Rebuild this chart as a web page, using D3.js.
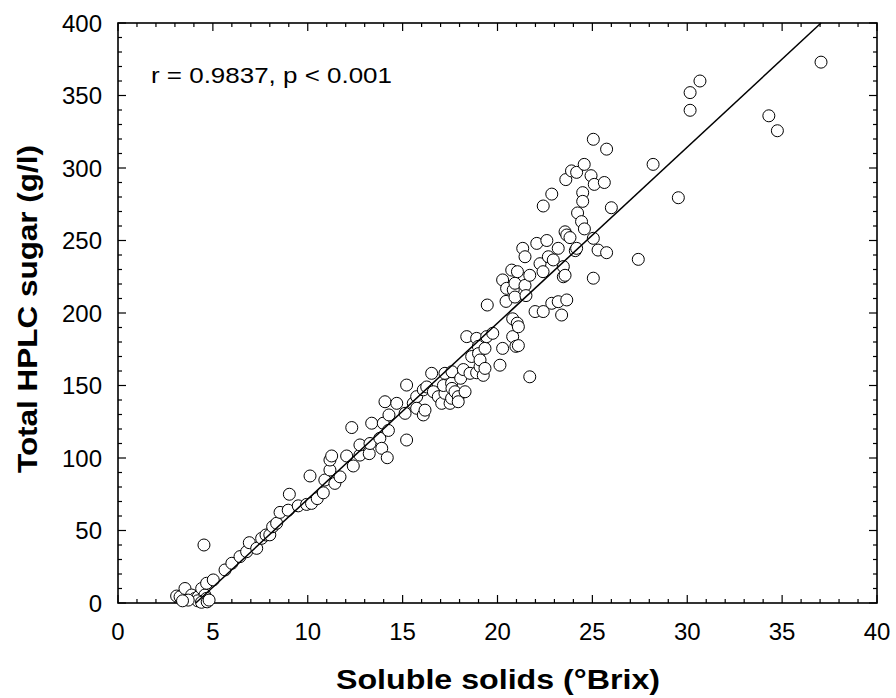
<!DOCTYPE html>
<html>
<head>
<meta charset="utf-8">
<script src="https://cdn.jsdelivr.net/npm/d3@7"></script>
<style>
  body { margin: 0; background: #fff; }
  svg { font-family: "Liberation Sans", Arial, sans-serif; }
</style>
</head>
<body>
<svg id="chart" width="896" height="698"></svg>
<script>
// soluble solids (°Brix) and total HPLC sugar (g/l)
const brix = [
  3.09, 3.27, 3.53, 3.88, 4.06, 4.23, 4.41, 4.58, 4.67, 4.67, 4.2, 4.4, 4.7, 3.7, 5.02, 4.53, 4.8, 3.4,
  5.64, 6.0, 6.43, 6.78, 6.92, 7.31, 7.57, 7.8, 8.0, 8.15, 8.36, 8.54, 8.97, 9.03, 9.5, 9.94, 10.2, 10.12,
  10.5, 10.82, 10.9, 11.17, 11.43, 11.7, 11.17, 11.26, 12.05, 12.4, 12.32, 12.75, 12.75, 13.24, 13.28, 13.37,
  13.8, 13.9, 13.98, 14.19, 14.25, 14.28, 14.07, 14.69, 15.21, 15.21, 15.13, 15.56, 15.74, 15.74, 16.09, 16.18,
  16.09, 16.27, 16.53, 16.62, 16.88, 17.06, 17.23, 17.23, 17.15, 17.5, 17.58, 17.58, 17.6, 17.6, 17.76, 17.93,
  17.93, 18.06, 18.2, 18.29, 18.38, 18.55, 18.64, 18.9, 18.9, 18.99, 19.0, 19.08, 19.08, 19.25, 19.34, 19.34,
  19.43, 19.46, 19.75, 20.13, 20.27, 20.27, 20.45, 20.48, 20.75, 20.8, 20.83, 20.8, 20.92, 20.92, 20.97, 21.04,
  21.05, 21.1, 21.1, 21.33, 21.45, 21.45, 21.5, 21.7, 21.7, 21.98, 22.07, 22.24, 22.41, 22.4, 22.41, 22.6,
  22.68, 22.86, 22.86, 22.94, 23.2, 23.2, 23.38, 23.47, 23.47, 23.56, 23.56, 23.6, 23.65, 23.65, 23.82, 23.9,
  24.1, 24.17, 24.17, 24.22, 24.43, 24.49, 24.49, 24.58, 24.57, 24.93, 25.05, 25.05, 25.05, 25.1, 25.3, 25.63,
  25.75, 25.75, 26.0, 27.42, 28.2, 29.53, 30.15, 30.15, 30.67, 34.3, 34.75, 37.05
];
const sugar = [
  4.8, 4.3, 10, 5.5, 3.2, 4.3, 10, 5.5, 3.2, 13.6, 1.5, 0.5, 0.8, 2, 15.9, 40, 2, 1.5,
  22.8, 27.4, 32, 35.4, 41.6, 37.7, 44.6, 46.9, 47, 52.6, 55, 62.5, 64, 75, 67, 68, 68.7, 87.6,
  72, 76, 84.8, 91.7, 82.5, 87, 98.6, 101.4, 101.4, 94.5, 121, 102, 109, 103, 110, 124,
  113.6, 106.7, 124, 100.2, 119, 129.7, 138.8, 137.7, 150.3, 112.4, 130.8, 137.7, 142.3, 134.3, 129.7, 133,
  147, 149, 158.4, 145.7, 142.3, 137.7, 158.4, 144.6, 150, 137.7, 141.2, 151.5, 159.5, 148, 145.7, 142.3,
  138.8, 155, 161, 145.7, 183.7, 158.4, 170, 182.5, 158.8, 177, 172, 163, 167.6, 157, 161.8, 175.6,
  183.7, 205.5, 186, 164, 175.6, 222.8, 208, 217, 229.6, 196, 216, 183.7, 211, 220.5, 177, 193,
  228.5, 190.5, 177.5, 244.6, 238.8, 219, 212, 226, 156, 201, 248, 234, 273.8, 228.5, 201, 250,
  238.8, 282, 206.7, 236.6, 244.6, 207.8, 198.6, 232, 225, 256, 226, 292, 253.8, 209, 252, 298,
  243, 297, 244.6, 269, 263, 283, 277, 258, 302.5, 294.7, 319.8, 251.5, 224, 288.7, 243.4, 290,
  313, 241.6, 272.6, 237, 302.5, 279.5, 339.8, 352, 360, 336, 325.7, 373
];

// fitted regression line end points
const fitX = [4.1, 37.05];
const fitY = [0, 400];

const xTicks = [0, 5, 10, 15, 20, 25, 30, 35, 40];
const yTicks = [0, 50, 100, 150, 200, 250, 300, 350, 400];
const label = "r = 0.9837, p \u003C 0.001";

const margin = { top: 23, right: 19, bottom: 95, left: 118 };
const width = 896, height = 698;

const svg = d3.select("#chart");

const x = d3.scaleLinear().domain([0, 40]).range([margin.left, width - margin.right]);
const y = d3.scaleLinear().domain([0, 400]).range([height - margin.bottom, margin.top]);

const x0 = x.range()[0], x1 = x.range()[1];
const y0 = y.range()[0], y1 = y.range()[1];

// ticks on all four sides, pointing inward
const minorX = d3.range(0, 41, 1);
const minorY = d3.range(0, 401, 10);

const tickG = svg.append("g").attr("stroke", "#000").attr("stroke-width", 1.2);
minorX.forEach(v => {
  const len = v % 5 === 0 ? 8 : 4;
  tickG.append("line").attr("x1", x(v)).attr("x2", x(v)).attr("y1", y0).attr("y2", y0 - len);
  tickG.append("line").attr("x1", x(v)).attr("x2", x(v)).attr("y1", y1).attr("y2", y1 + len);
});
minorY.forEach(v => {
  const len = v % 50 === 0 ? 8 : 4;
  tickG.append("line").attr("y1", y(v)).attr("y2", y(v)).attr("x1", x0).attr("x2", x0 + len);
  tickG.append("line").attr("y1", y(v)).attr("y2", y(v)).attr("x1", x1).attr("x2", x1 - len);
});

svg.append("rect")
  .attr("x", x0).attr("y", y1)
  .attr("width", x1 - x0).attr("height", y0 - y1)
  .attr("fill", "none").attr("stroke", "#000").attr("stroke-width", 1.6);

// tick labels
svg.append("g").selectAll("text")
  .data(xTicks).join("text")
  .attr("x", d => x(d)).attr("y", y0 + 37)
  .attr("text-anchor", "middle")
  .attr("font-size", 24)
  .text(d => d);

svg.append("g").selectAll("text")
  .data(yTicks).join("text")
  .attr("x", x0 - 16).attr("y", d => y(d) + 8.5)
  .attr("text-anchor", "end")
  .attr("font-size", 24)
  .text(d => d);

// points
const pts = brix.map((b, i) => [b, sugar[i]]);
svg.append("g").selectAll("circle")
  .data(pts).join("circle")
  .attr("cx", d => x(d[0])).attr("cy", d => y(d[1]))
  .attr("r", 6)
  .attr("fill", "#fff")
  .attr("stroke", "#000")
  .attr("stroke-width", 1);

// regression line
svg.append("path")
  .datum(fitX.map((v, i) => [v, fitY[i]]))
  .attr("d", d3.line().x(d => x(d[0])).y(d => y(d[1])))
  .attr("fill", "none").attr("stroke", "#000").attr("stroke-width", 1.5);

svg.append("text")
  .attr("x", 151).attr("y", 83)
  .attr("font-size", 22)
  .attr("textLength", 241).attr("lengthAdjust", "spacingAndGlyphs")
  .text(label);

// axis titles
svg.append("text")
  .attr("x", 498).attr("y", 689)
  .attr("text-anchor", "middle")
  .attr("font-size", 28).attr("font-weight", "bold")
  .attr("textLength", 324).attr("lengthAdjust", "spacingAndGlyphs")
  .text("Soluble solids (°Brix)");

svg.append("text")
  .attr("transform", "translate(37,309) rotate(-90)")
  .attr("text-anchor", "middle")
  .attr("font-size", 27).attr("font-weight", "bold")
  .attr("textLength", 328).attr("lengthAdjust", "spacingAndGlyphs")
  .text("Total HPLC sugar (g/l)");
</script>
</body>
</html>
